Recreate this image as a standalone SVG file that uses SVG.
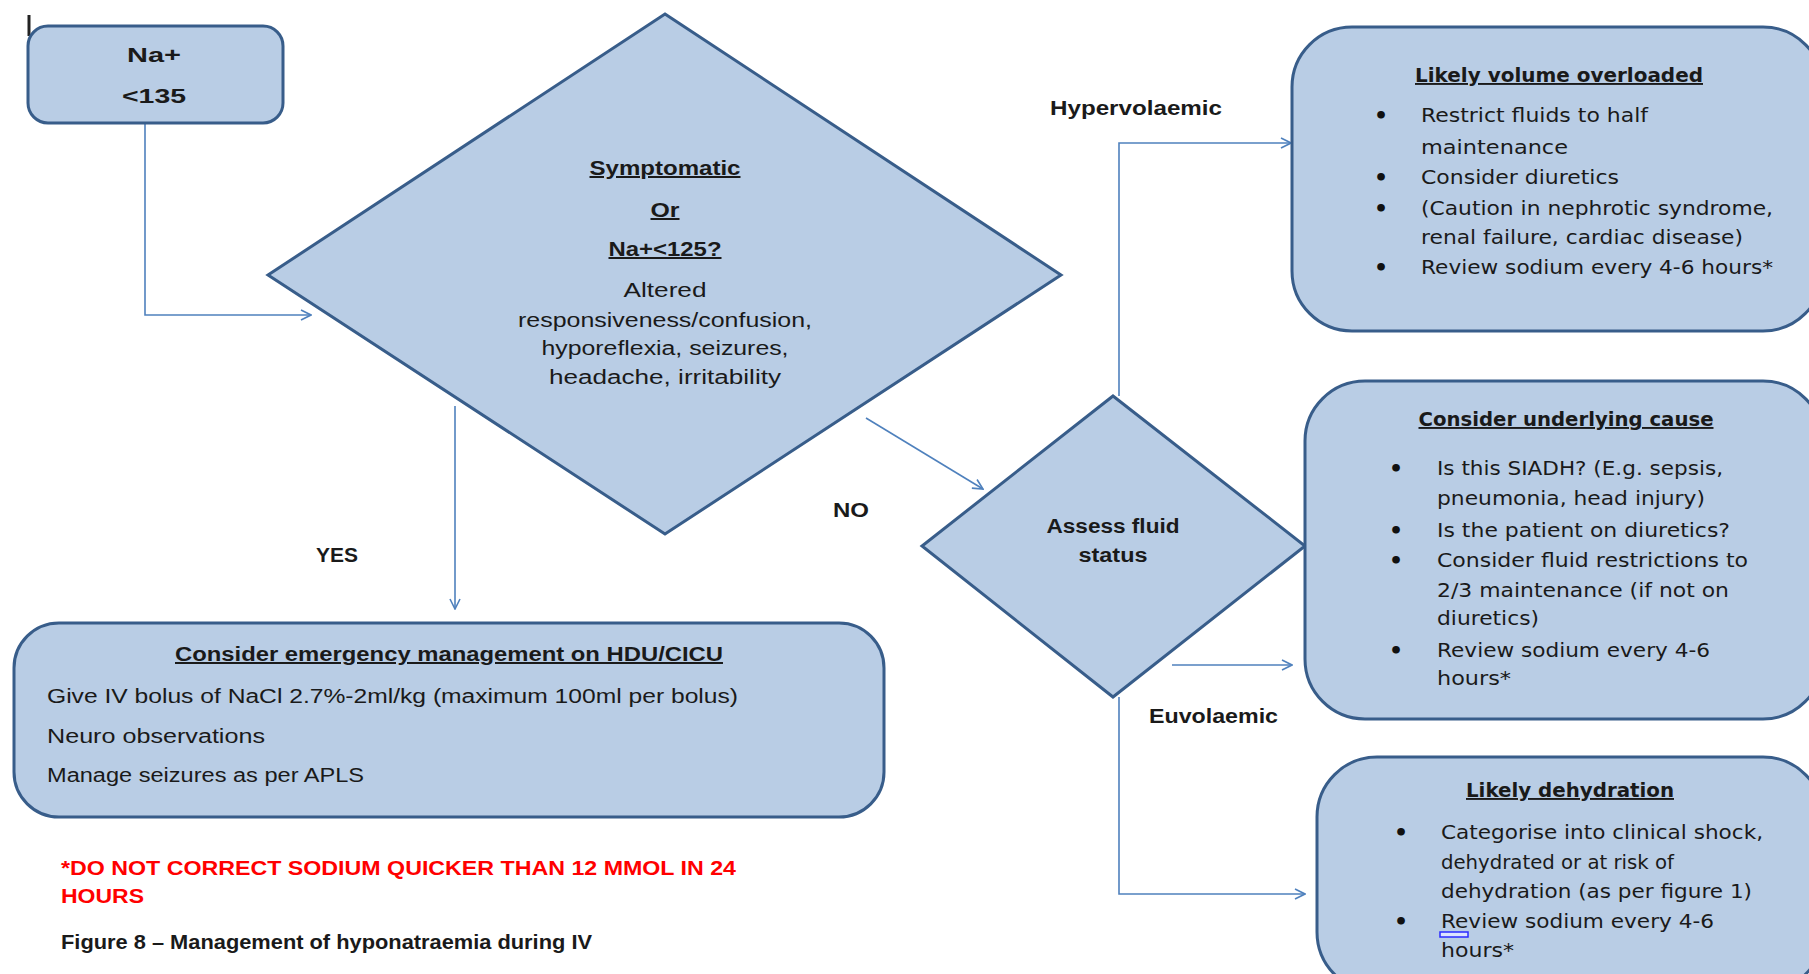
<svg xmlns="http://www.w3.org/2000/svg" width="1809" height="974" viewBox="0 0 1809 974">
<defs>
<style>
.shape{fill:#B9CDE5;stroke:#385D8A;stroke-width:3}
.conn{fill:none;stroke:#4F81BD;stroke-width:1.6}
.t{font-family:"Liberation Sans",Arial,sans-serif;font-size:20px;fill:#1a1a1a}
.w{font-family:"DejaVu Sans","Liberation Sans",sans-serif;font-size:19px;fill:#1a1a1a}
.bul{font-family:"DejaVu Sans","Liberation Sans",sans-serif;font-size:22px;font-weight:bold;fill:#111}
.b{font-weight:bold}
.u{text-decoration:underline}
.c{text-anchor:middle}
.red{fill:#FF0000;font-weight:bold}
</style>
<marker id="arr" viewBox="0 0 12 12" refX="11" refY="6" markerWidth="12" markerHeight="12" markerUnits="userSpaceOnUse" orient="auto">
<path d="M1,1 L11,6 L1,11" fill="none" stroke="#4F81BD" stroke-width="1.6"/>
</marker>
</defs>
<rect width="1809" height="974" fill="#ffffff"/>
<line x1="29" y1="15" x2="29" y2="36" stroke="#222" stroke-width="3"/>

<g id="connectors">
<path class="conn" d="M145,123 V315 H311" marker-end="url(#arr)"/>
<path class="conn" d="M455,406 V609" marker-end="url(#arr)"/>
<path class="conn" d="M866,418 L983,489" marker-end="url(#arr)"/>
<path class="conn" d="M1119,396 V143 H1291" marker-end="url(#arr)"/>
<path class="conn" d="M1172,665 H1292" marker-end="url(#arr)"/>
<path class="conn" d="M1119,697 V894 H1305" marker-end="url(#arr)"/>
</g>

<g id="na">
<rect class="shape" x="28" y="26" width="255" height="97" rx="20"/>
<text class="t b c" x="154" y="62" font-size="24" textLength="54" lengthAdjust="spacingAndGlyphs">Na+</text>
<text class="t b c" x="154" y="103" font-size="24" textLength="64" lengthAdjust="spacingAndGlyphs">&lt;135</text>
</g>

<g id="symptomatic">
<polygon class="shape" points="665,14 1061,275 665,534 268,275"/>
<text class="t b u c" x="665" y="175" textLength="151" lengthAdjust="spacingAndGlyphs">Symptomatic</text>
<text class="t b u c" x="665" y="217" textLength="29" lengthAdjust="spacingAndGlyphs">Or</text>
<text class="t b u c" x="665" y="256" textLength="113" lengthAdjust="spacingAndGlyphs">Na+&lt;125?</text>
<text class="t c" x="665" y="297" textLength="83" lengthAdjust="spacingAndGlyphs">Altered</text>
<text class="t c" x="665" y="327" textLength="294" lengthAdjust="spacingAndGlyphs">responsiveness/confusion,</text>
<text class="t c" x="665" y="355" textLength="247" lengthAdjust="spacingAndGlyphs">hyporeflexia, seizures,</text>
<text class="t c" x="665" y="384" textLength="232" lengthAdjust="spacingAndGlyphs">headache, irritability</text>
</g>

<g id="labels">
<text class="t b" x="1050" y="115" textLength="172" lengthAdjust="spacingAndGlyphs">Hypervolaemic</text>
<text class="t b" x="833" y="517" textLength="36" lengthAdjust="spacingAndGlyphs">NO</text>
<text class="t b" x="316" y="562" textLength="42" lengthAdjust="spacingAndGlyphs">YES</text>
<text class="t b" x="1149" y="723" textLength="129" lengthAdjust="spacingAndGlyphs">Euvolaemic</text>
</g>

<g id="assess">
<polygon class="shape" points="1113,396 1305,546 1113,697 922,546"/>
<text class="t b c" x="1113" y="533" textLength="133" lengthAdjust="spacingAndGlyphs">Assess fluid</text>
<text class="t b c" x="1113" y="562" textLength="69" lengthAdjust="spacingAndGlyphs">status</text>
</g>

<g id="overloaded">
<rect class="shape" x="1292" y="27" width="531" height="304" rx="60"/>
<text class="w b u c" x="1559" y="82" textLength="288" lengthAdjust="spacingAndGlyphs">Likely volume overloaded</text>
<text class="bul" x="1374" y="123">•</text>
<text class="w" x="1421" y="122" textLength="227" lengthAdjust="spacingAndGlyphs">Restrict fluids to half</text>
<text class="w" x="1421" y="154" textLength="147" lengthAdjust="spacingAndGlyphs">maintenance</text>
<text class="bul" x="1374" y="185">•</text>
<text class="w" x="1421" y="184" textLength="198" lengthAdjust="spacingAndGlyphs">Consider diuretics</text>
<text class="bul" x="1374" y="216">•</text>
<text class="w" x="1421" y="215" textLength="352" lengthAdjust="spacingAndGlyphs">(Caution in nephrotic syndrome,</text>
<text class="w" x="1421" y="244" textLength="322" lengthAdjust="spacingAndGlyphs">renal failure, cardiac disease)</text>
<text class="bul" x="1374" y="275">•</text>
<text class="w" x="1421" y="274" textLength="352" lengthAdjust="spacingAndGlyphs">Review sodium every 4-6 hours*</text>
</g>

<g id="underlying">
<rect class="shape" x="1305" y="381" width="518" height="338" rx="60"/>
<text class="w b u c" x="1566" y="426" textLength="295" lengthAdjust="spacingAndGlyphs">Consider underlying cause</text>
<text class="bul" x="1389" y="476">•</text>
<text class="w" x="1437" y="475" textLength="286" lengthAdjust="spacingAndGlyphs">Is this SIADH? (E.g. sepsis,</text>
<text class="w" x="1437" y="505" textLength="268" lengthAdjust="spacingAndGlyphs">pneumonia, head injury)</text>
<text class="bul" x="1389" y="538">•</text>
<text class="w" x="1437" y="537" textLength="293" lengthAdjust="spacingAndGlyphs">Is the patient on diuretics?</text>
<text class="bul" x="1389" y="568">•</text>
<text class="w" x="1437" y="567" textLength="311" lengthAdjust="spacingAndGlyphs">Consider fluid restrictions to</text>
<text class="w" x="1437" y="597" textLength="292" lengthAdjust="spacingAndGlyphs">2/3 maintenance (if not on</text>
<text class="w" x="1437" y="625" textLength="102" lengthAdjust="spacingAndGlyphs">diuretics)</text>
<text class="bul" x="1389" y="658">•</text>
<text class="w" x="1437" y="657" textLength="273" lengthAdjust="spacingAndGlyphs">Review sodium every 4-6</text>
<text class="w" x="1437" y="685" textLength="74" lengthAdjust="spacingAndGlyphs">hours*</text>
</g>

<g id="dehydration">
<rect class="shape" x="1317" y="757" width="506" height="235" rx="60"/>
<text class="w b u c" x="1570" y="797" textLength="208" lengthAdjust="spacingAndGlyphs">Likely dehydration</text>
<text class="bul" x="1394" y="840">•</text>
<text class="w" x="1441" y="839" textLength="322" lengthAdjust="spacingAndGlyphs">Categorise into clinical shock,</text>
<text class="w" x="1441" y="869" textLength="233" lengthAdjust="spacingAndGlyphs">dehydrated or at risk of</text>
<text class="w" x="1441" y="898" textLength="311" lengthAdjust="spacingAndGlyphs">dehydration (as per figure 1)</text>
<text class="bul" x="1394" y="929">•</text>
<text class="w" x="1441" y="928" textLength="273" lengthAdjust="spacingAndGlyphs">Review sodium every 4-6</text>
<text class="w" x="1441" y="957" textLength="73" lengthAdjust="spacingAndGlyphs">hours*</text>
<rect x="1440" y="932" width="28" height="5" fill="#dde3ff" stroke="#2a2aff" stroke-width="1.5"/>
</g>

<g id="emergency">
<rect class="shape" x="14" y="623" width="870" height="194" rx="45"/>
<text class="t b u c" x="449" y="661" textLength="548" lengthAdjust="spacingAndGlyphs">Consider  emergency management on HDU/CICU</text>
<text class="t" x="47" y="703" textLength="691" lengthAdjust="spacingAndGlyphs">Give IV bolus of NaCl 2.7%-2ml/kg (maximum 100ml per bolus)</text>
<text class="t" x="47" y="743" textLength="218" lengthAdjust="spacingAndGlyphs">Neuro observations</text>
<text class="t" x="47" y="782" textLength="317" lengthAdjust="spacingAndGlyphs">Manage seizures as per APLS</text>
</g>

<g id="notes">
<text class="t red" x="61" y="875" textLength="675" lengthAdjust="spacingAndGlyphs">*DO NOT CORRECT SODIUM QUICKER THAN 12 MMOL IN 24</text>
<text class="t red" x="61" y="903" textLength="83" lengthAdjust="spacingAndGlyphs">HOURS</text>
<text class="t b" x="61" y="949" font-size="18" textLength="531" lengthAdjust="spacingAndGlyphs">Figure 8 – Management of hyponatraemia during IV</text>
</g>
</svg>
